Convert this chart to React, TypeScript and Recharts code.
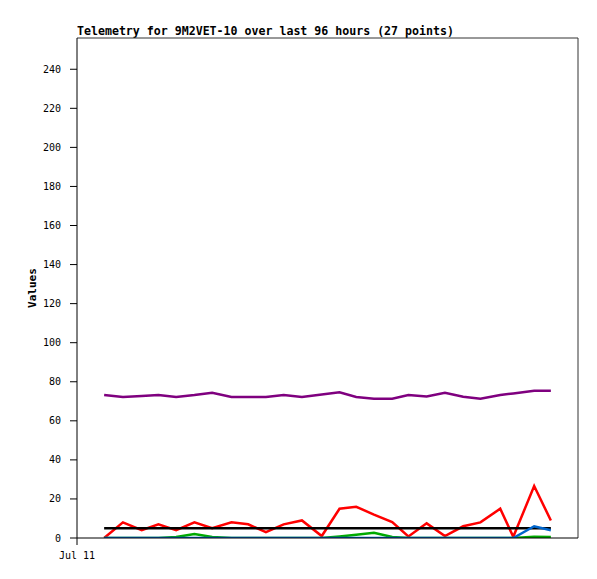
import { Line, LineChart, ReferenceLine, XAxis, YAxis } from "recharts";

// hours since Jul 11 00:00 for each sample
const hours = [
  5.2, 8.8, 12.4, 15.6, 19.0, 22.5, 25.9, 29.6, 32.8, 36.2, 39.6, 43.1, 46.9,
  50.3, 53.5, 56.9, 60.4, 63.5, 67.0, 70.5, 74.0, 77.3, 81.1, 83.6, 87.6, 90.8,
];

const purpleVals = [
  73.2, 72.2, 72.7, 73.2, 72.2, 73.2, 74.4, 72.2, 72.2, 72.2, 73.2, 72.2, 73.5,
  74.6, 72.2, 71.3, 71.3, 73.2, 72.5, 74.4, 72.3, 71.3, 73.2, 74, 75.4, 75.4,
];
const redVals = [
  0, 8, 4, 7, 4, 8, 5, 8, 7, 3, 7, 9, 1, 15, 16, 12, 8.2, 0.8, 7.5, 1, 6, 8, 15, 0.6, 26.6, 9,
];
const blackVals = [5, 5, 5, 5, 5, 5, 5, 5, 5, 5, 5, 5, 5, 5, 5, 5, 5, 5, 5, 5, 5, 5, 5, 5, 5, 5];
const greenVals = [
  0, 0, 0, 0, 0.5, 2, 0.5, 0, 0, 0, 0, 0, 0, 0.8, 1.7, 2.7, 0.5, 0, 0, 0, 0, 0, 0, 0, 0.7, 0.5,
];
const blueVals = [0, 0, 0, 0, 0, 0, 0, 0, 0, 0, 0, 0, 0, 0, 0, 0, 0, 0, 0, 0, 0, 0, 0, 0, 6, 4];

const yTicks = [0, 20, 40, 60, 80, 100, 120, 140, 160, 180, 200, 220, 240];
const xTicks = [0];
const xTickLabels = ["Jul 11"];
const xDomain = [0, 96];
const yDomain = [0, 256];

const title = "Telemetry for 9M2VET-10 over last 96 hours (27 points)";

const data = hours.map((h, i) => ({
  h,
  purple: purpleVals[i],
  red: redVals[i],
  black: blackVals[i],
  green: greenVals[i],
  blue: blueVals[i],
}));

const mono = "'DejaVu Sans Mono', 'Liberation Mono', monospace";
const tickStyle = { fill: "#000", fontSize: 10, fontFamily: mono };

export default function App() {
  return (
    <div style={{ position: "absolute", left: 0, top: 0, width: 597, height: 579, background: "#fff" }}>
      <div
        style={{
          position: "absolute",
          left: 77,
          top: 25,
          fontFamily: mono,
          fontSize: 11.6,
          lineHeight: "12px",
          fontWeight: "bold",
          color: "#000",
          whiteSpace: "nowrap",
        }}
      >
        {title}
      </div>
      <LineChart
        width={597}
        height={579}
        data={data}
        margin={{ top: 38, right: 19, bottom: 11, left: 0 }}
        style={{ fontFamily: mono }}
      >
        <XAxis
          dataKey="h"
          type="number"
          domain={xDomain}
          ticks={xTicks}
          tickFormatter={(v: number) => xTickLabels[xTicks.indexOf(v)] ?? ""}
          height={30}
          tickSize={7}
          tickMargin={7}
          tick={tickStyle}
          axisLine={{ stroke: "#000", strokeWidth: 1 }}
          tickLine={{ stroke: "#000" }}
          allowDataOverflow
        />
        <YAxis
          type="number"
          domain={yDomain}
          ticks={yTicks}
          width={77}
          tickSize={7}
          tickMargin={9}
          tick={tickStyle}
          axisLine={{ stroke: "#000" }}
          tickLine={{ stroke: "#000" }}
          allowDataOverflow
          label={{
            content: ({ viewBox }: any) => {
              const cx = viewBox.x + 32;
              const cy = viewBox.y + viewBox.height / 2;
              return (
                <text
                  x={cx}
                  y={cy}
                  transform={`rotate(-90 ${cx} ${cy})`}
                  textAnchor="middle"
                  dominantBaseline="central"
                  fontFamily={mono}
                  fontSize={11}
                  fontWeight="bold"
                  fill="#000"
                >
                  Values
                </text>
              );
            },
          }}
        />
        {/* frame: top and right edges of the plot */}
        <ReferenceLine y={yDomain[1]} stroke="#333" strokeWidth={1} ifOverflow="extendDomain" />
        <ReferenceLine x={xDomain[1]} stroke="#333" strokeWidth={1} ifOverflow="extendDomain" />
        <Line dataKey="purple" stroke="#7f007f" strokeWidth={2.5} dot={false} activeDot={false} isAnimationActive={false} />
        <Line dataKey="red" stroke="#ff0000" strokeWidth={2.5} dot={false} activeDot={false} isAnimationActive={false} />
        <Line dataKey="black" stroke="#000000" strokeWidth={2.5} dot={false} activeDot={false} isAnimationActive={false} />
        <Line dataKey="green" stroke="#00aa00" strokeWidth={2.5} dot={false} activeDot={false} isAnimationActive={false} />
        <Line dataKey="blue" stroke="#0066cc" strokeWidth={2.5} dot={false} activeDot={false} isAnimationActive={false} />
      </LineChart>
    </div>
  );
}
